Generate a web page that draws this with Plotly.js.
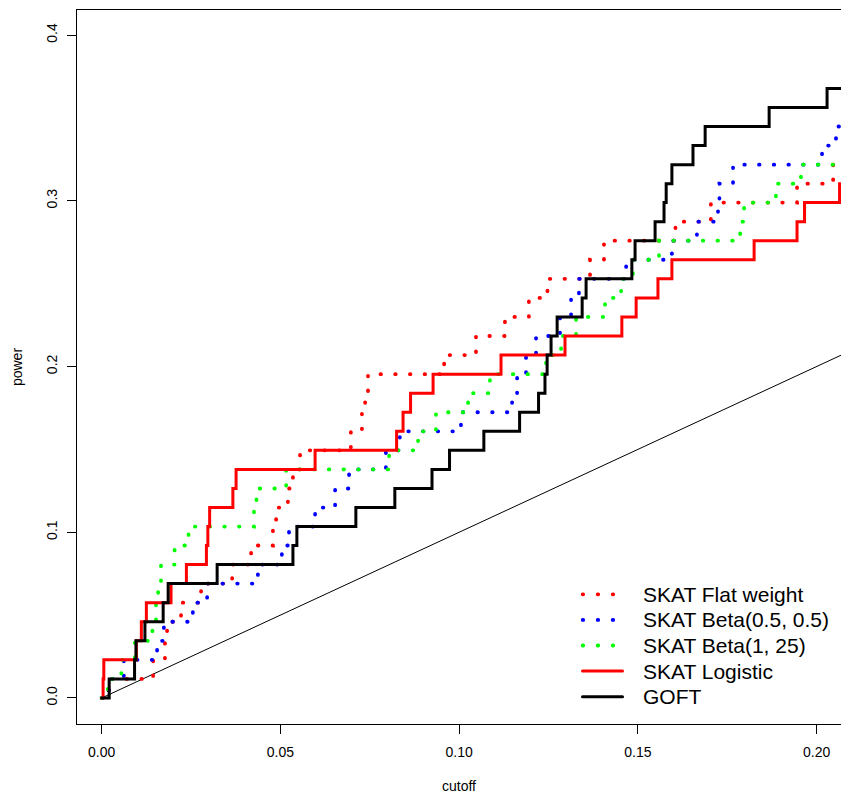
<!DOCTYPE html>
<html>
<head>
<meta charset="utf-8">
<script src="https://cdn.plot.ly/plotly-3.0.1.min.js"></script>
<style>
html,body{margin:0;padding:0;background:#fff;}
#chart{width:841px;height:795px;}
#chart path.js-line, #chart .shapelayer path{stroke-linecap:round !important;}
</style>
</head>
<body>
<div id="chart"></div>
<script>
// ---- data ----
const cutoffFlat = [0, 0.0020, 0.0144, 0.0177, 0.0183, 0.0222, 0.0278, 0.0365, 0.0418, 0.0479, 0.0488, 0.0521, 0.0535, 0.0555, 0.0697, 0.0728, 0.0737, 0.0745, 0.0958, 0.1047, 0.1128, 0.1195, 0.1247, 0.1366, 0.1405, 0.1605, 0.1704, 0.1945, 0.2046, 0.2100];
const powerFlat  = [0, 0.0115, 0.0230, 0.0345, 0.0460, 0.0575, 0.0690, 0.0805, 0.0920, 0.1034, 0.1149, 0.1264, 0.1379, 0.1494, 0.1609, 0.1724, 0.1839, 0.1954, 0.2069, 0.2184, 0.2299, 0.2414, 0.2529, 0.2644, 0.2759, 0.2874, 0.2989, 0.3103, 0.3218, 0.3218];

const cutoffBetaHalf = [0, 0.0020, 0.0062, 0.0155, 0.0174, 0.0255, 0.0295, 0.0437, 0.0504, 0.0524, 0.0597, 0.0653, 0.0692, 0.0795, 0.0834, 0.1005, 0.1148, 0.1162, 0.1187, 0.1215, 0.1282, 0.1313, 0.1335, 0.1467, 0.1595, 0.1665, 0.1724, 0.1728, 0.1766, 0.2015, 0.2054, 0.2100];
const powerBetaHalf  = [0, 0.0115, 0.0230, 0.0345, 0.0460, 0.0575, 0.0690, 0.0805, 0.0920, 0.1034, 0.1149, 0.1264, 0.1379, 0.1494, 0.1609, 0.1724, 0.1839, 0.1954, 0.2069, 0.2184, 0.2299, 0.2414, 0.2529, 0.2644, 0.2759, 0.2874, 0.2989, 0.3103, 0.3218, 0.3333, 0.3448, 0.3448];

const cutoffBeta125 = [0, 0.0017, 0.0055, 0.0093, 0.0142, 0.0152, 0.0158, 0.0166, 0.0204, 0.0243, 0.0426, 0.0433, 0.0516, 0.0804, 0.0885, 0.0935, 0.1025, 0.1086, 0.1243, 0.1285, 0.1327, 0.1408, 0.1453, 0.1486, 0.1559, 0.1786, 0.1797, 0.1886, 0.1956, 0.2100];
const powerBeta125  = [0, 0.0115, 0.0230, 0.0345, 0.0460, 0.0575, 0.0690, 0.0805, 0.0920, 0.1034, 0.1149, 0.1264, 0.1379, 0.1494, 0.1609, 0.1724, 0.1839, 0.1954, 0.2069, 0.2184, 0.2299, 0.2414, 0.2529, 0.2644, 0.2759, 0.2874, 0.2989, 0.3103, 0.3218, 0.3218];

const cutoffLogistic = [0, 0.0004, 0.0006, 0.0097, 0.0111, 0.0125, 0.0194, 0.0237, 0.0293, 0.0297, 0.0302, 0.0367, 0.0376, 0.0597, 0.0825, 0.0843, 0.0864, 0.0927, 0.1117, 0.1296, 0.1455, 0.1495, 0.1556, 0.1595, 0.1825, 0.1945, 0.1966, 0.2064, 0.2100];
const powerLogistic  = [0, 0.0115, 0.0230, 0.0345, 0.0460, 0.0575, 0.0690, 0.0805, 0.0920, 0.1034, 0.1149, 0.1264, 0.1379, 0.1494, 0.1609, 0.1724, 0.1839, 0.1954, 0.2069, 0.2184, 0.2299, 0.2414, 0.2529, 0.2644, 0.2759, 0.2874, 0.2989, 0.3103, 0.3103];

const cutoffGOFT = [0, 0.0021, 0.0092, 0.0096, 0.0121, 0.0172, 0.0186, 0.0323, 0.0535, 0.0546, 0.0711, 0.0820, 0.0924, 0.0973, 0.1069, 0.1169, 0.1222, 0.1240, 0.1246, 0.1257, 0.1274, 0.1344, 0.1355, 0.1483, 0.1492, 0.1548, 0.1573, 0.1579, 0.1595, 0.1654, 0.1688, 0.1867, 0.2029, 0.2100];
const powerGOFT  = [0, 0.0115, 0.0230, 0.0345, 0.0460, 0.0575, 0.0690, 0.0805, 0.0920, 0.1034, 0.1149, 0.1264, 0.1379, 0.1494, 0.1609, 0.1724, 0.1839, 0.1954, 0.2069, 0.2184, 0.2299, 0.2414, 0.2529, 0.2644, 0.2759, 0.2874, 0.2989, 0.3103, 0.3218, 0.3333, 0.3448, 0.3563, 0.3678, 0.3678];

const refCutoff = [0, 0.25];
const refPower  = [0, 0.25];

const seriesNames = ["SKAT Flat weight", "SKAT Beta(0.5, 0.5)", "SKAT Beta(1, 25)", "SKAT Logistic", "GOFT"];
const seriesColors = ["#FF0000", "#0000FF", "#00FF00", "#FF0000", "#000000"];
const seriesDotted = [true, true, true, false, false];

const xTicks = [0, 0.05, 0.10, 0.15, 0.20];
const xTickLabels = ["0.00", "0.05", "0.10", "0.15", "0.20"];
const yTicks = [0, 0.1, 0.2, 0.3, 0.4];
const yTickLabels = ["0.0", "0.1", "0.2", "0.3", "0.4"];

// ---- build ----
const FONT = '"Liberation Sans", Arial, Helvetica, sans-serif';
const DOT = '0.5px,14.2px';
const xs = [cutoffFlat, cutoffBetaHalf, cutoffBeta125, cutoffLogistic, cutoffGOFT];
const ys = [powerFlat, powerBetaHalf, powerBeta125, powerLogistic, powerGOFT];

const traces = [{
  x: refCutoff, y: refPower, mode: 'lines', type: 'scatter',
  line: {color: '#000000', width: 1}, hoverinfo: 'skip', showlegend: false
}];
for (let i = 0; i < seriesNames.length; i++) {
  traces.push({
    x: xs[i], y: ys[i], name: seriesNames[i], type: 'scatter', mode: 'lines',
    line: {shape: 'hv', color: seriesColors[i], width: seriesDotted[i] ? 3.8 : 3, dash: seriesDotted[i] ? DOT : 'solid'},
    showlegend: false
  });
}

// manual legend (R style)
const W = 841, H = 795, mL = 77, mR = 0, mT = 10, mB = 71;
const pw = W - mL - mR, ph = H - mT - mB;
const px2x = p => (p - mL) / pw;
const py2y = p => (H - mB - p) / ph;
const shapes = [], annotations = [];
for (let i = 0; i < seriesNames.length; i++) {
  const yy = py2y(594.3 + i * 25.6);
  const dotted = seriesDotted[i];
  shapes.push({
    type: 'line', xref: 'paper', yref: 'paper',
    x0: px2x(dotted ? 582.7 : 582.5), x1: px2x(dotted ? 622 : 622.5), y0: yy, y1: yy,
    line: {color: seriesColors[i], width: dotted ? 3.8 : 3, dash: dotted ? '0.5px,14.5px' : 'solid'}
  });
  annotations.push({
    xref: 'paper', yref: 'paper', x: px2x(641), y: yy, xanchor: 'left', yanchor: 'middle',
    text: seriesNames[i], showarrow: false, font: {family: FONT, size: 21, color: '#000'}
  });
}

const layout = {
  width: W, height: H,
  margin: {l: mL, r: mR, t: mT, b: mB, pad: 0},
  paper_bgcolor: '#fff', plot_bgcolor: '#fff',
  font: {family: FONT, size: 14, color: '#000'},
  showlegend: false,
  xaxis: {
    range: [-0.0069, 0.2068], tickvals: xTicks, ticktext: xTickLabels,
    ticks: 'outside', ticklen: 9, tickwidth: 1, tickcolor: '#000', ticklabelstandoff: 6,
    showline: true, mirror: true, linecolor: '#000', linewidth: 1,
    showgrid: false, zeroline: false,
    tickfont: {family: FONT, size: 14, color: '#000'},
    title: {text: 'cutoff', font: {family: FONT, size: 14, color: '#000'}, standoff: 22}
  },
  yaxis: {
    range: [-0.0157, 0.4151], tickvals: yTicks, ticktext: yTickLabels,
    ticks: 'outside', ticklen: 9.5, tickwidth: 1, tickcolor: '#000', tickangle: -90, ticklabelstandoff: 4,
    showline: true, mirror: false, linecolor: '#000', linewidth: 1,
    showgrid: false, zeroline: false,
    tickfont: {family: FONT, size: 14, color: '#000'},
    title: {text: 'power', font: {family: FONT, size: 14, color: '#000'}, standoff: 18}
  },
  shapes: shapes,
  annotations: annotations
};

Plotly.newPlot('chart', traces, layout, {staticPlot: true, displayModeBar: false});
</script>
</body>
</html>
